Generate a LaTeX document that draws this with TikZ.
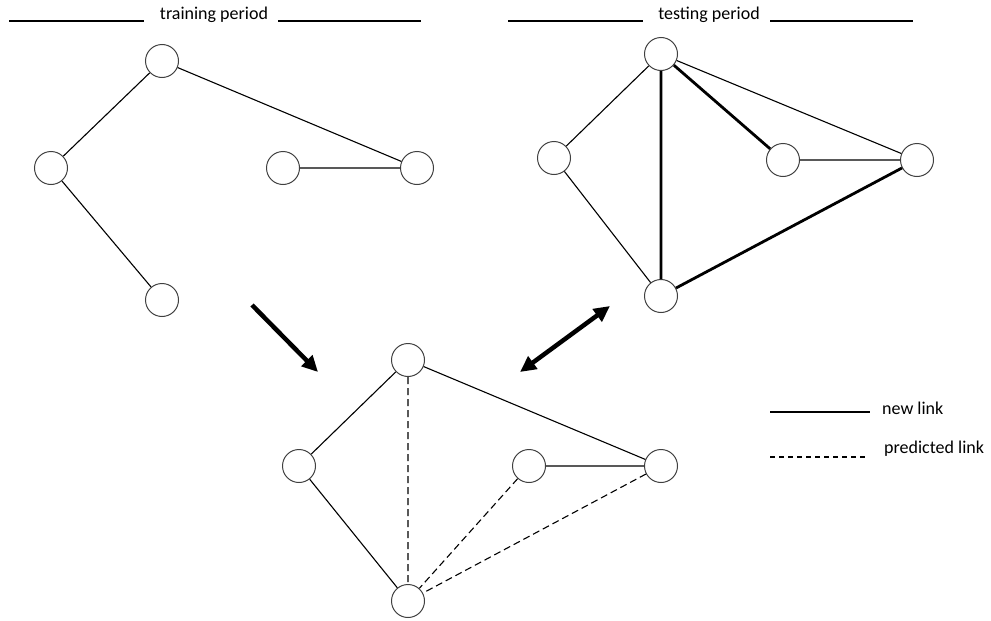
\documentclass[tikz,border=0pt]{standalone}
\usepackage{fontspec}
\setmainfont{Carlito}
\usetikzlibrary{arrows.meta}
\begin{document}
\begin{tikzpicture}[x=1pt,y=-1pt,
  vtx/.style={circle,draw=black!75,line width=1pt,minimum size=33pt,inner sep=0pt,fill=white},
  thin/.style={line width=1.1pt},
  thick/.style={line width=2.8pt},
  pred/.style={line width=1.1pt,dash pattern=on 7pt off 4pt},
  lbl/.style={font=\fontsize{18}{21}\selectfont,inner sep=0pt},
  bigarrow/.style={line width=4.5pt,-{Triangle[length=16pt,width=15pt]}}]
\useasboundingbox (0,0) rectangle (991,621);
% headers
\node[lbl] (t1) at (214,15) {training period};
\node[lbl] (t2) at (709,15) {testing period};
\coordinate (h1a) at (9,21); \coordinate (h1b) at (144,21);
\coordinate (h1c) at (278,21); \coordinate (h1d) at (421,21);
\coordinate (h2a) at (508,21); \coordinate (h2b) at (643,21);
\coordinate (h2c) at (770,21); \coordinate (h2d) at (913,21);
\draw[line width=1.1pt] (h1a) -- (h1b) (h2a) -- (h2b);
\draw[line width=1.8pt] (h1c) -- (h1d) (h2c) -- (h2d);
% training
\node[vtx] (a1) at (162,61) {};
\node[vtx] (b1) at (51,168) {};
\node[vtx] (c1) at (162,300) {};
\node[vtx] (d1) at (283,168) {};
\node[vtx] (e1) at (417,168) {};
\draw[thin] (a1) -- (b1) (b1) -- (c1) (a1) -- (e1) (d1) -- (e1);
% testing
\node[vtx] (a2) at (661,54) {};
\node[vtx] (b2) at (554,158) {};
\node[vtx] (c2) at (661,296) {};
\node[vtx] (d2) at (783,160) {};
\node[vtx] (e2) at (917,160) {};
\draw[thin] (a2) -- (b2) (b2) -- (c2) (a2) -- (e2) (d2) -- (e2);
\draw[thick] (a2) -- (c2) (a2) -- (d2) (c2) -- (e2);
% predicted
\node[vtx] (a3) at (408,360) {};
\node[vtx] (b3) at (299,466) {};
\node[vtx] (c3) at (408,601) {};
\node[vtx] (d3) at (529,466) {};
\node[vtx] (e3) at (661,466) {};
\draw[thin] (a3) -- (b3) (b3) -- (c3) (a3) -- (e3) (d3) -- (e3);
\draw[pred] (a3) -- (c3) (d3) -- (c3) (e3) -- (c3);
% big arrows
\coordinate (p1) at (252,305); \coordinate (p2) at (318,372);
\draw[bigarrow] (p1) -- (p2);
\coordinate (q1) at (520,372); \coordinate (q2) at (610,306);
\draw[line width=4.5pt,{Triangle[length=16pt,width=15pt]}-{Triangle[length=16pt,width=15pt]}] (q1) -- (q2);
% legend
\coordinate (l1a) at (770,412); \coordinate (l1b) at (870,412);
\coordinate (l2a) at (770,457); \coordinate (l2b) at (868,457);
\draw[thick] (l1a) -- (l1b);
\draw[pred,dash pattern=on 5pt off 4pt] (l2a) -- (l2b);
\node[lbl,anchor=west] (n1) at (882,408) {new link};
\node[lbl,anchor=west] (n2) at (884,449) {predicted link};
\end{tikzpicture}
\end{document}
